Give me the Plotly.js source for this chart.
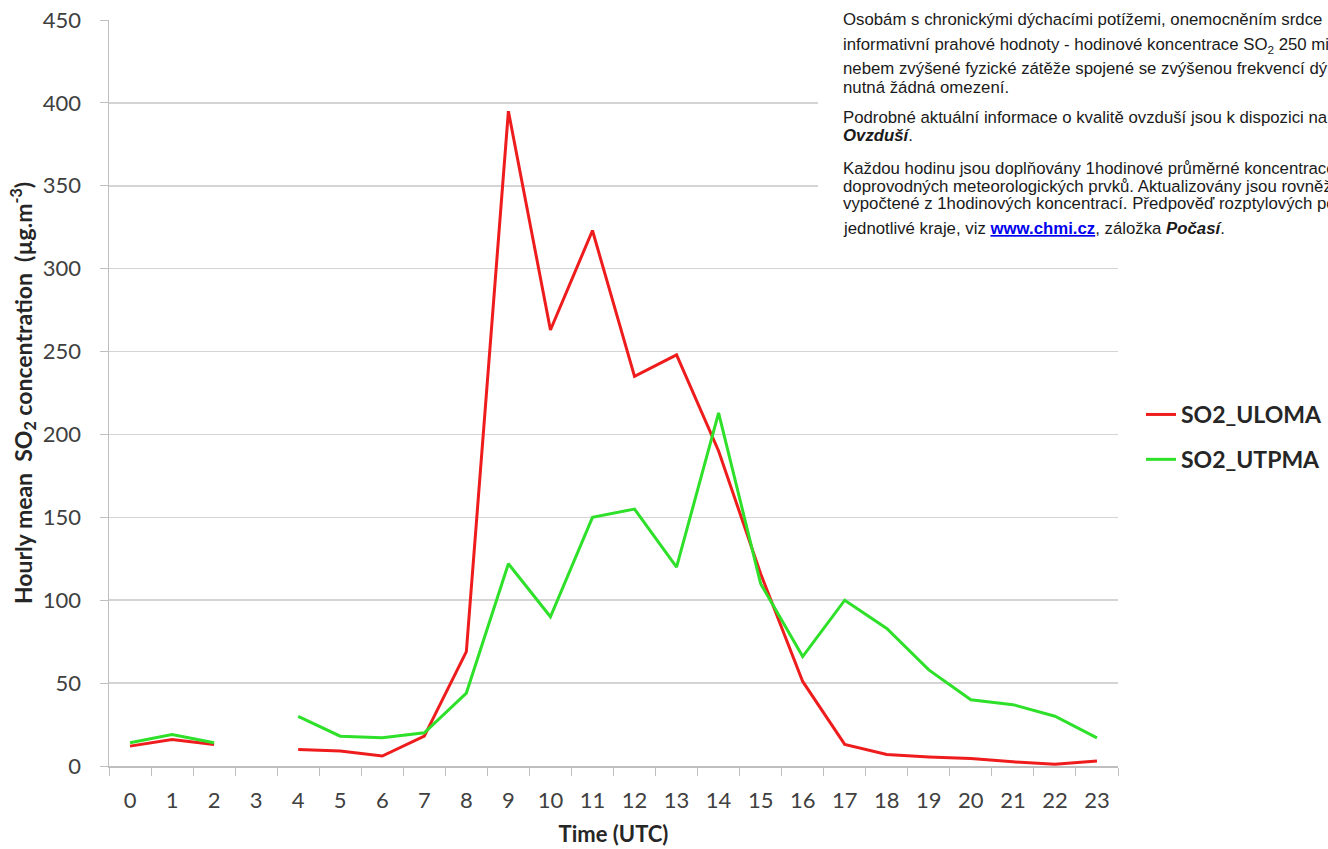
<!DOCTYPE html>
<html><head><meta charset="utf-8">
<script src="https://cdn.plot.ly/plotly-3.0.1.min.js"></script>
<style>html,body{margin:0;padding:0;background:#fff}#chart{width:1328px;height:849px}</style>
</head><body><div id="chart"></div>
<script>
const hours = ['0','1','2','3','4','5','6','7','8','9','10','11','12','13','14','15','16','17','18','19','20','21','22','23'];
const so2Uloma = [12,16,13,null,10,9,6,18,69,395,263,323,235,248,190,116,51,13,7,5.5,4.5,2.5,1,3];
const so2Utpma = [14,19,14,null,30,18,17,20,44,122,90,150,155,120,213,110,66,100,83,58,40,37,30,17];
const seriesNames = ['SO2_ULOMA','SO2_UTPMA'];
const noteLines = [
  'Osobám s chronickými dýchacími potížemi, onemocněním srdce',
  'informativní prahové hodnoty - hodinové koncentrace SO<sub>2</sub> 250 mik',
  'nebem zvýšené fyzické zátěže spojené se zvýšenou frekvencí dý',
  'nutná žádná omezení.',
  'Podrobné aktuální informace o kvalitě ovzduší jsou k dispozici na',
  '<b><i>Ovzduší</i></b>.',
  'Každou hodinu jsou doplňovány 1hodinové průměrné koncentrace',
  'doprovodných meteorologických prvků. Aktualizovány jsou rovněž',
  'vypočtené z 1hodinových koncentrací. Předpověď rozptylových po',
  'jednotlivé kraje, viz <span style="color:#0000ee"><b><u>www.chmi.cz</u></b></span>, záložka <b><i>Počasí</i></b>.'
];
const notePx = [19,45,68,88,118,135,168,186,203,229];

const W=1328,H=849,L=109,R=1118,T=20,B=766;
const px = x => (x-L)/(R-L);
const py = y => (B-y)/(B-T);

const traces = [
  {x:hours,y:so2Uloma,name:seriesNames[0],type:'scatter',mode:'lines',legendgroup:'a',
   line:{color:'#ee1c1c',width:3},connectgaps:false},
  {x:hours,y:so2Utpma,name:seriesNames[1],type:'scatter',mode:'lines',legendgroup:'b',
   line:{color:'#2fe02a',width:3},connectgaps:false}
];

const annotations = noteLines.map((t,i)=>({
  text:t, xref:'paper', yref:'paper', x:px(841), y:py(notePx[i]), xanchor:'left', yanchor:'middle',
  showarrow:false, align:'left', font:{family:'Liberation Sans, Arial, sans-serif', size:16.8, color:'#1a1a1a'}
}));

const layout = {
  width:W,height:H,
  margin:{l:L,r:W-R,t:T,b:H-B,pad:0,autoexpand:false},
  paper_bgcolor:'#fff',plot_bgcolor:'#fff',
  font:{family:'Lato, Carlito, sans-serif',color:'#404040'},
  xaxis:{type:'category',range:[-0.5,23.5],tickson:'boundaries',ticks:'outside',ticklen:8,tickcolor:'#bfbfbf',
    showline:true,linecolor:'#bfbfbf',linewidth:1.5,showgrid:false,zeroline:false,ticklabelstandoff:14,
    tickfont:{size:22,color:'#404040'},
    title:{text:'<b>Time (UTC)</b>',font:{size:22,color:'#262626'},standoff:14}},
  yaxis:{range:[0,450],dtick:50,ticks:'outside',ticklen:8,tickcolor:'#bfbfbf',
    showline:true,linecolor:'#bfbfbf',linewidth:1.5,gridcolor:'#d4d4d4',gridwidth:1.5,zeroline:false,ticklabelstandoff:14,
    tickfont:{size:22,color:'#404040'},
    title:{text:'<b>Hourly mean  SO<sub>2</sub> concentration  (µg.m<sup>-3</sup>)</b>',font:{size:23,color:'#262626'},standoff:4}},
  legend:{x:px(1141),y:py(393),xanchor:'left',yanchor:'top',tracegroupgap:12,
    font:{size:23,color:'#262626',family:'Lato, Carlito, sans-serif',weight:'bold'},bgcolor:'rgba(0,0,0,0)',itemwidth:30},
  shapes:[{type:'rect',xref:'paper',yref:'paper',x0:px(818),x1:px(1340),y0:py(262),y1:py(-5),
    fillcolor:'#ffffff',line:{width:0},layer:'above'}],
  annotations:annotations,
  showlegend:true
};
Plotly.newPlot('chart',traces,layout,{displayModeBar:false,staticPlot:true});
</script></body></html>
